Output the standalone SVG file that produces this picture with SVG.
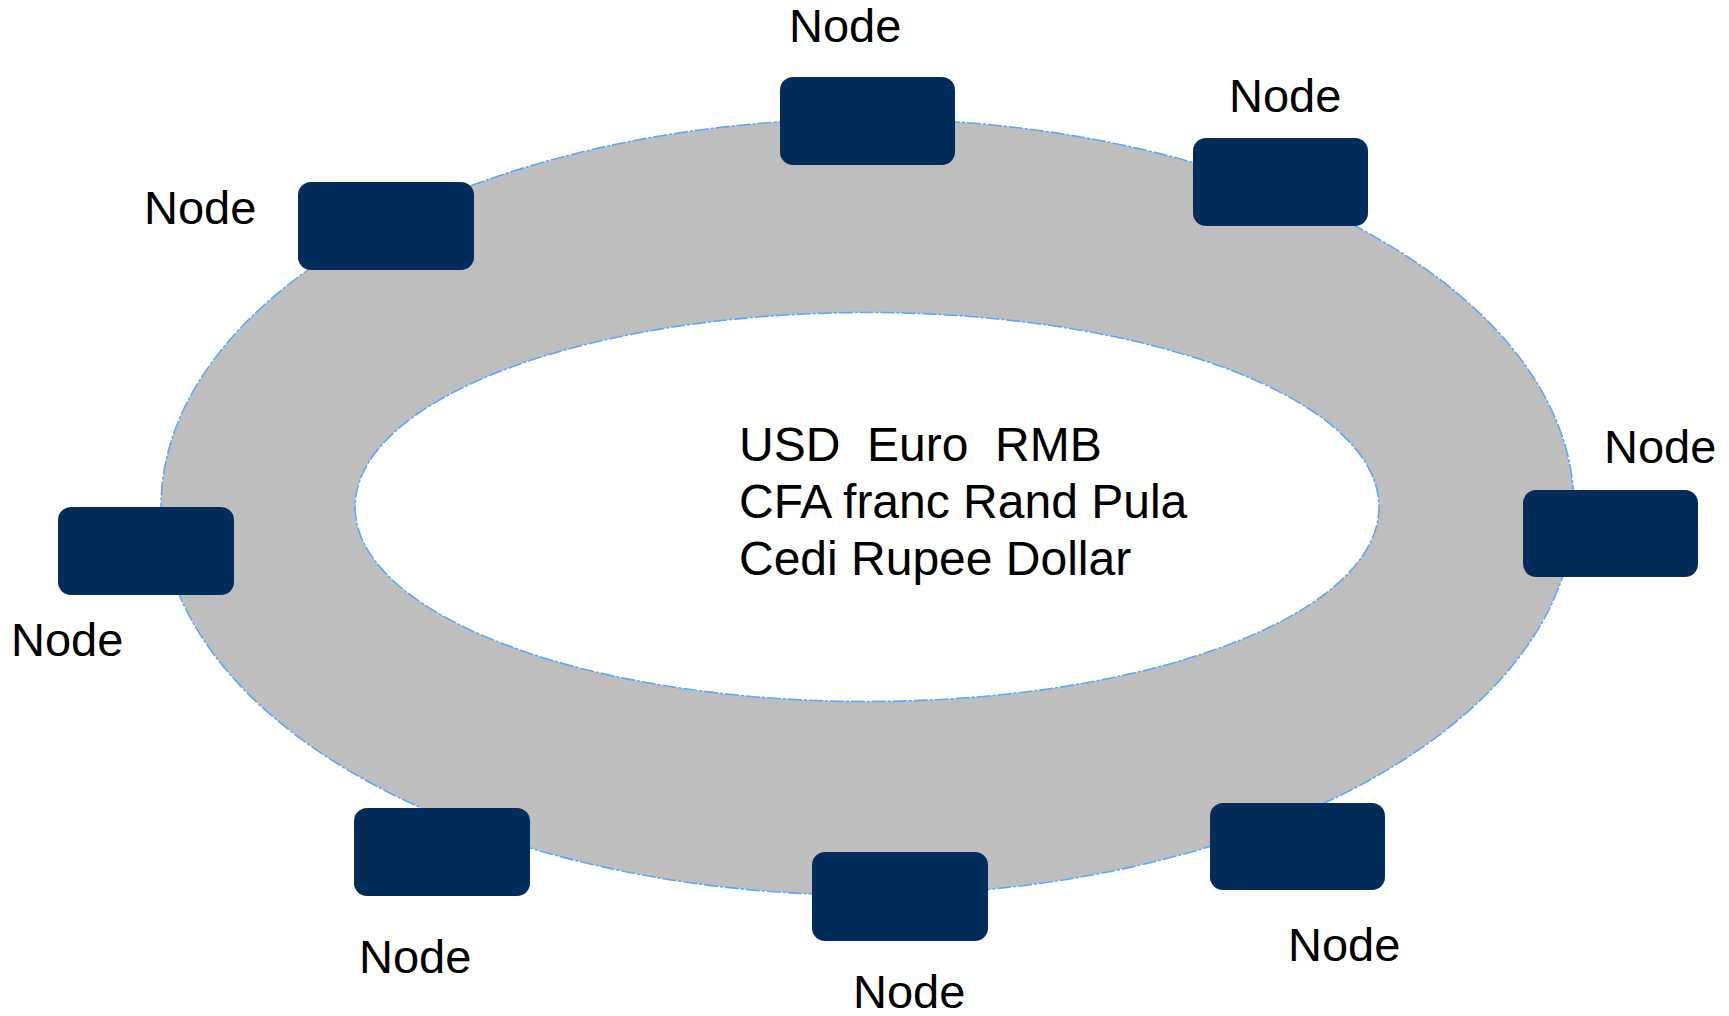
<svg xmlns="http://www.w3.org/2000/svg" width="1729" height="1016" viewBox="0 0 1729 1016">
  <style>
    .node { fill: #022d5a; }
    .label { font-family: "Liberation Sans", Arial, sans-serif; font-size: 47px; fill: #000; }
    .centre { font-family: "Liberation Sans", Arial, sans-serif; font-size: 48px; fill: #000; }
    .ring { fill: #bebebe; fill-rule: evenodd; stroke: #5aa8ff; stroke-width: 1.6; stroke-dasharray: 14 2 3 2; }
  </style>
  <rect width="1729" height="1016" fill="#ffffff"/>

  <!-- ring band: outer ellipse minus inner ellipse -->
  <g id="ring">
    <path class="ring" d="M 161 507 A 706.5 388 0 1 0 1574 507 A 706.5 388 0 1 0 161 507 Z M 355 507 A 512 194.5 0 1 0 1379 507 A 512 194.5 0 1 0 355 507 Z"/>
  </g>

  <g id="connectors"></g>

  <g id="currencies">
    <text class="centre" x="739" y="461" xml:space="preserve">USD  Euro  RMB</text>
    <text class="centre" x="739" y="518">CFA franc Rand Pula</text>
    <text class="centre" x="739" y="575">Cedi Rupee Dollar</text>
  </g>

  <g id="node-top">
    <rect class="node" x="780" y="77" width="175" height="88" rx="13"/>
    <text class="label" x="789" y="42">Node</text>
  </g>
  <g id="node-top-right">
    <rect class="node" x="1193" y="138" width="175" height="88" rx="13"/>
    <text class="label" x="1229" y="112">Node</text>
  </g>
  <g id="node-top-left">
    <rect class="node" x="298" y="182" width="176" height="88" rx="13"/>
    <text class="label" x="144" y="224">Node</text>
  </g>
  <g id="node-right">
    <rect class="node" x="1523" y="490" width="175" height="87" rx="13"/>
    <text class="label" x="1604" y="463">Node</text>
  </g>
  <g id="node-left">
    <rect class="node" x="58" y="507" width="176" height="88" rx="13"/>
    <text class="label" x="11" y="656">Node</text>
  </g>
  <g id="node-bottom-left">
    <rect class="node" x="354" y="808" width="176" height="88" rx="13"/>
    <text class="label" x="359" y="973">Node</text>
  </g>
  <g id="node-bottom">
    <rect class="node" x="812" y="852" width="176" height="89" rx="13"/>
    <text class="label" x="853" y="1008">Node</text>
  </g>
  <g id="node-bottom-right">
    <rect class="node" x="1210" y="803" width="175" height="87" rx="13"/>
    <text class="label" x="1288" y="961">Node</text>
  </g>
</svg>
